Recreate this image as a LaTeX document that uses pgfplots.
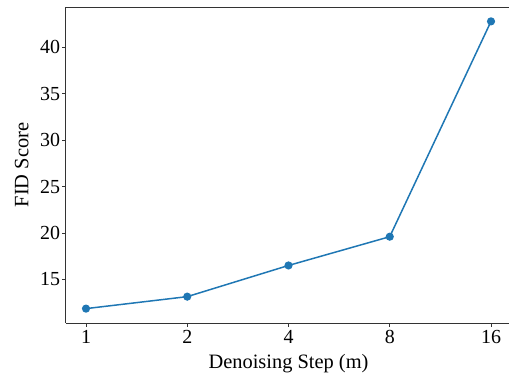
\documentclass[border=0pt]{standalone}
\usepackage{fontspec}
\setmainfont{Liberation Serif}
\usepackage{pgfplots}
\pgfplotsset{compat=1.18}
\definecolor{c0}{HTML}{1F77B4}
\definecolor{spine}{HTML}{333333}
\begin{document}
\begin{tikzpicture}
\begin{axis}[
  scale only axis,
  width=445.5bp, height=316bp,
  xmin=-0.2, xmax=4.2,
  ymin=10.3, ymax=44.35,
  xtick={0,1,2,3,4},
  xticklabels={1,2,4,8,16},
  ytick={15,20,25,30,35,40},
  axis x line*=box,
  axis y line*=left,
  xtick pos=bottom, ytick pos=left,
  tick align=outside,
  major tick length=3.5bp,
  tick style={line width=0.8bp, spine},
  axis line style={line width=0.8bp, spine},
  /pgf/number format/assume math mode=true,
  ticklabel style={font=\fontsize{20}{22}\selectfont},
  yticklabel style={inner sep=2bp},
  label style={font=\fontsize{20.5}{23}\selectfont},
  xlabel={Denoising Step (m)},
  ylabel={FID Score},
  xlabel style={yshift=-4bp},
  ylabel style={yshift=6bp},
  clip=false,
]
\addplot[c0, line width=1.5bp, mark=*, mark size=3.3bp, mark options={fill=c0, draw=c0}]
  coordinates {(0,11.85) (1,13.14) (2,16.5) (3,19.6) (4,42.8)};
\end{axis}
\pgfresetboundingbox
\path[use as bounding box] ([shift={(-65.75bp,-50bp)}]current axis.south west) rectangle ([shift={(443.25bp,7bp)}]current axis.north west);
\end{tikzpicture}
\end{document}
